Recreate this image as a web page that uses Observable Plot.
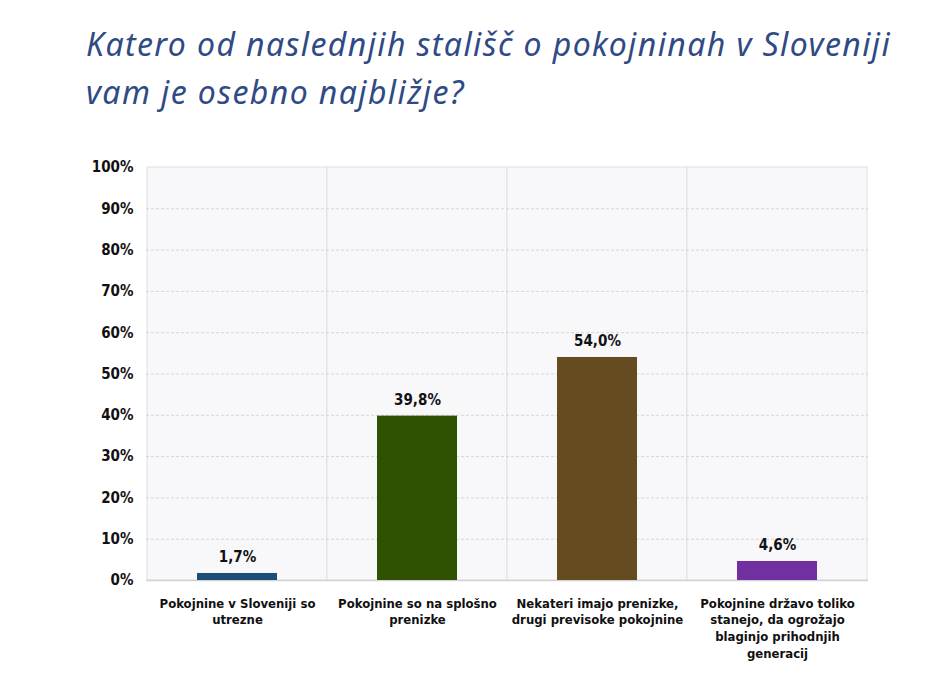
<!DOCTYPE html>
<html>
<head>
<meta charset="utf-8">
<script src="https://cdn.jsdelivr.net/npm/d3@7"></script>
<script src="https://cdn.jsdelivr.net/npm/@observablehq/plot@0.6"></script>
<style>
  html, body { margin: 0; padding: 0; background: #fff; }
  #wrap { position: relative; width: 933px; height: 687px; overflow: hidden; }
  #title { position: absolute; left: 86px; top: 20px; width: 860px;
    font-family: "Noto Sans", sans-serif; font-style: italic; font-size: 32px;
    line-height: 48px; color: #2f4a84; letter-spacing: 1.4px; white-space: nowrap; }
  #chart { position: absolute; left: 0; top: 120px; }
</style>
</head>
<body>
<div id="wrap">
  <div id="title">Katero od naslednjih stališč o pokojninah v Sloveniji<br>vam je osebno najbližje?</div>
  <div id="chart"></div>
</div>
<script>
const categories = [
  "Pokojnine v Sloveniji so\nutrezne",
  "Pokojnine so na splošno\nprenizke",
  "Nekateri imajo prenizke,\ndrugi previsoke pokojnine",
  "Pokojnine državo toliko\nstanejo, da ogrožajo\nblaginjo prihodnjih\ngeneracij"
];
const values = [1.7, 39.8, 54.0, 4.6];
const valueLabels = ["1,7%", "39,8%", "54,0%", "4,6%"];
const colors = ["#1c4e78", "#2e5200", "#654b20", "#7030a0"];
const yTicks = [0, 10, 20, 30, 40, 50, 60, 70, 80, 90, 100];
const gridTicks = [10, 20, 30, 40, 50, 60, 70, 80, 90];

const data = categories.map((c, i) => ({cat: c, value: values[i], label: valueLabels[i], color: colors[i]}));
const font = '"DejaVu Sans Condensed", "Liberation Sans Narrow", sans-serif';

const chart = Plot.plot({
  width: 933,
  height: 567,
  marginTop: 47,
  marginBottom: 107,
  marginLeft: 146,
  marginRight: 65,
  style: {fontFamily: font, fontWeight: "bold", fontSize: "14px", color: "#000", background: "transparent"},
  x: {domain: categories, padding: 0, label: null},
  y: {domain: [0, 100], label: null},
  marks: [
    Plot.barY(categories, {x: d => d, y1: 0, y2: 100, fill: "#f8f7fa", stroke: "#e0dfe4", strokeWidth: 1}),
    Plot.ruleY(gridTicks, {stroke: "#d6d6da", strokeDasharray: "3,2", strokeWidth: 1}),
    Plot.ruleY([0], {stroke: "#d3d3d6", strokeWidth: 1.5}),
    Plot.barY(data, {x: "cat", y: "value", fill: "color", insetLeft: 50, insetRight: 50}),
    Plot.text(data, {x: "cat", y: "value", text: "label", dy: -16, fontSize: 15, fontWeight: "bold", fill: "#111"}),
    Plot.axisY({ticks: yTicks, tickFormat: d => d + "%", tickSize: 0, tickPadding: 13, fontSize: 15, fontWeight: "bold", fill: "#111"}),
    Plot.axisX({tickSize: 0, tickPadding: 15, fontSize: 13, fontWeight: "bold", fill: "#111", lineHeight: 1.3, textOverflow: null, lineWidth: Infinity})
  ]
});
document.getElementById("chart").appendChild(chart);
</script>
</body>
</html>
